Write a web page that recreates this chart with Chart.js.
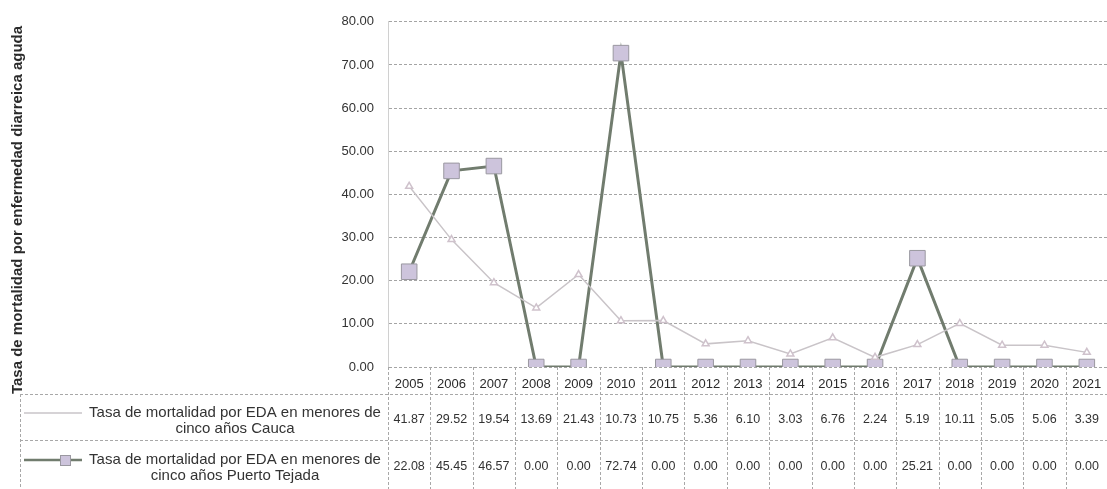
<!DOCTYPE html>
<html>
<head>
<meta charset="utf-8">
<script src="https://cdn.jsdelivr.net/npm/chart.js@4.4.0/dist/chart.umd.min.js"></script>
<style>
  html, body { margin: 0; padding: 0; background: #fff; overflow: hidden; }
  #wrap { width: 1107px; height: 489px; overflow: hidden; }
</style>
</head>
<body>
<div id="wrap"><canvas id="edaChart" width="1120" height="489"></canvas></div>
<script>
  const years = ['2005', '2006', '2007', '2008', '2009', '2010', '2011', '2012', '2013',
    '2014', '2015', '2016', '2017', '2018', '2019', '2020', '2021'];
  const cauca = [41.87, 29.52, 19.54, 13.69, 21.43, 10.73, 10.75, 5.36, 6.10,
    3.03, 6.76, 2.24, 5.19, 10.11, 5.05, 5.06, 3.39];
  const puertoTejada = [22.08, 45.45, 46.57, 0.00, 0.00, 72.74, 0.00, 0.00, 0.00,
    0.00, 0.00, 0.00, 25.21, 0.00, 0.00, 0.00, 0.00];
  const caucaLabel = ['Tasa de mortalidad por EDA en menores de', 'cinco años Cauca'];
  const tejadaLabel = ['Tasa de mortalidad por EDA en menores de', 'cinco años Puerto Tejada'];
  const yTitle = 'Tasa de mortalidad por enfermedad diarreica aguda';
  const yMax = 80;
  const yStep = 10;

  const caucaColor = '#c9c4c8';
  const tejadaColor = '#717c6e';
  const tejadaFill = '#cdc4dc';

  // data table under the plot + rotated axis title
  const tablePlugin = {
    id: 'dataTable',
    afterDraw(chart) {
      const c = chart.ctx;
      const x = chart.scales.x;
      const area = chart.chartArea;
      const colW = x.width / years.length;
      const rowTop = 394, rowMid = 440, rowBot = 489;
      const tableLeft = 20;

      c.save();
      c.strokeStyle = '#a8a8a8';
      c.lineWidth = 1;
      c.setLineDash([3, 2]);
      // horizontal lines
      [rowTop, rowMid].forEach(y => {
        c.beginPath();
        c.moveTo(tableLeft, y + 0.5);
        c.lineTo(area.right, y + 0.5);
        c.stroke();
      });
      // vertical lines
      for (let i = 0; i <= years.length; i++) {
        const xx = Math.round(area.left + i * colW) + 0.5;
        c.beginPath();
        c.moveTo(xx, area.bottom);
        c.lineTo(xx, rowBot);
        c.stroke();
      }
      c.beginPath();
      c.moveTo(tableLeft + 0.5, rowTop);
      c.lineTo(tableLeft + 0.5, rowBot);
      c.stroke();
      c.setLineDash([]);

      // values
      c.fillStyle = '#333';
      c.font = '12.5px "Liberation Sans", Arial, sans-serif';
      c.textAlign = 'center';
      c.textBaseline = 'middle';
      years.forEach((yr, i) => {
        const cx = x.getPixelForValue(i);
        c.fillText(cauca[i].toFixed(2), cx, 420);
        c.fillText(puertoTejada[i].toFixed(2), cx, 467);
      });

      // legend keys
      c.strokeStyle = caucaColor;
      c.lineWidth = 1.5;
      c.beginPath(); c.moveTo(24, 413); c.lineTo(82, 413); c.stroke();
      c.strokeStyle = tejadaColor;
      c.lineWidth = 2.5;
      c.beginPath(); c.moveTo(24, 460); c.lineTo(82, 460); c.stroke();
      c.fillStyle = tejadaFill;
      c.strokeStyle = '#9a98a0';
      c.lineWidth = 1;
      c.fillRect(60, 455, 10, 10);
      c.strokeRect(60.5, 455.5, 10, 10);

      // legend text
      c.fillStyle = '#333';
      c.font = '15px "Liberation Sans", Arial, sans-serif';
      const lx = 235;
      c.fillText(caucaLabel[0], lx, 413);
      c.fillText(caucaLabel[1], lx, 429);
      c.fillText(tejadaLabel[0], lx, 460);
      c.fillText(tejadaLabel[1], lx, 476);

      // axis title
      c.translate(18, 210);
      c.rotate(-Math.PI / 2);
      c.font = 'bold 15px "Liberation Sans", Arial, sans-serif';
      c.fillStyle = '#2a2a2a';
      c.fillText(yTitle, 0, 0);
      c.restore();
    }
  };

  new Chart(document.getElementById('edaChart'), {
    type: 'line',
    data: {
      labels: years,
      datasets: [{
        label: caucaLabel.join(' '),
        data: cauca,
        borderColor: caucaColor,
        borderWidth: 1.5,
        pointStyle: 'triangle',
        pointRadius: 4,
        pointBackgroundColor: '#fff',
        pointBorderColor: '#cfc2cc',
        tension: 0
      }, {
        label: tejadaLabel.join(' '),
        data: puertoTejada,
        borderColor: tejadaColor,
        borderWidth: 3,
        pointStyle: 'rect',
        pointRadius: 11,
        pointBackgroundColor: tejadaFill,
        pointBorderColor: '#9a98a0',
        pointBorderWidth: 1,
        tension: 0
      }]
    },
    options: {
      responsive: false,
      animation: false,
      layout: { padding: { top: 21, left: 0, right: 0, bottom: 0 } },
      plugins: {
        legend: { display: false },
        tooltip: { enabled: false }
      },
      scales: {
        x: {
          offset: true,
          grid: { display: false },
          border: { display: false },
          ticks: {
            color: '#2a2a2a',
            font: { size: 13, family: '"Liberation Sans", Arial, sans-serif' },
            padding: 2,
            maxRotation: 0
          },
          afterFit: s => { s.height = 122; }
        },
        y: {
          min: 0,
          max: yMax,
          ticks: {
            stepSize: yStep,
            color: '#333',
            padding: 14,
            font: { size: 13, family: '"Liberation Sans", Arial, sans-serif' },
            callback: v => v.toFixed(2)
          },
          grid: { color: '#a4a4a4', drawTicks: false, lineWidth: 1 },
          border: { display: true, color: '#d0d0d0', dash: [3, 2] },
          afterFit: s => { s.width = 388; }
        }
      }
    },
    plugins: [tablePlugin]
  });
</script>
</body>
</html>
